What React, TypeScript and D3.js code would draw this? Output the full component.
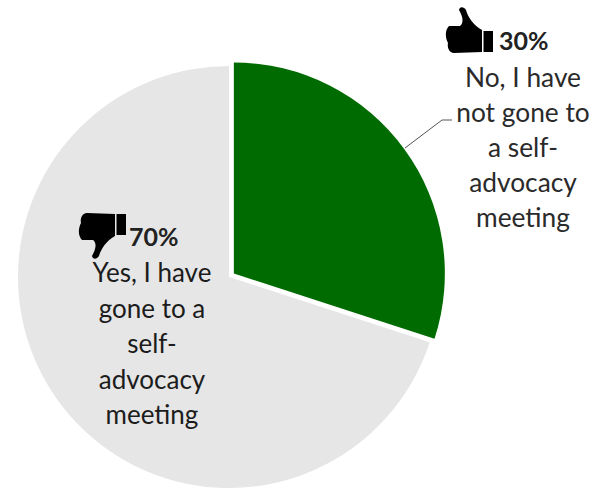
import React from 'react';
import * as d3 from 'd3';

const categories = ['No, I have not gone to a self-advocacy meeting', 'Yes, I have gone to a self-advocacy meeting'];
const values = [30, 70];
const explode = [6, 0];
const colors = ['#006b00', '#e6e6e6'];
const noLines = ['No, I have', 'not gone to', 'a self-', 'advocacy', 'meeting'];
const yesLines = ['Yes, I have', 'gone to a', 'self-', 'advocacy', 'meeting'];

const width = 598;
const height = 490;
const cx = 229;
const cy = 277;
const radius = 211;

// thumb glyph, pointing up, 47 wide and 46 high
const thumb = 'M3,19 L14,19 C18,16 17,10 13,3 C14,-1 18,0 20,3 C22,10 27,18 36,23 L36,45 L8,46 C3,46 1,40 2,36 C-1,30 -1,23 3,19 Z M37.5,24 H47 V45 H37.5 Z';

const App: React.FC = () => {
  const pie = d3.pie<number>().sort(null).startAngle(0).endAngle(2 * Math.PI);
  const arc = d3.arc<d3.PieArcDatum<number>>().innerRadius(0).outerRadius(radius);
  const slices = pie(values);
  const font = 'Lato, "Open Sans", sans-serif';

  return (
    <svg width={width} height={height} style={{ position: 'absolute', left: 0, top: 0, background: '#fff' }} fontFamily={font}>
      <g transform={`translate(${cx},${cy})`}>
        {slices.map((d, i) => {
          // pulled-out slice moves along its mid angle
          const mid = (d.startAngle + d.endAngle) / 2;
          const dx = Math.sin(mid) * explode[i];
          const dy = -Math.cos(mid) * explode[i];
          return <path key={categories[i]} d={arc(d) ?? ''} fill={colors[i]} transform={`translate(${dx},${dy})`} />;
        })}
      </g>

      <polyline points="405,148 442,120 452,120" fill="none" stroke="#555" strokeWidth={1} />

      <path d={thumb} transform="translate(446,7)" fill="#000" />
      <text x={499} y={50} fontSize={25} fontWeight={700} fill="#222">{values[0]}%</text>
      {noLines.map((t, i) => (
        <text key={i} x={523} y={87 + i * 35} fontSize={26.3} textAnchor="middle" fill="#2a2a2a">{t}</text>
      ))}

      <path d={thumb} transform="translate(79,259) scale(1,-1)" fill="#000" />
      <text x={129} y={246} fontSize={25} fontWeight={700} fill="#222">{values[1]}%</text>
      {yesLines.map((t, i) => (
        <text key={i} x={152} y={282 + i * 35.5} fontSize={26} textAnchor="middle" fill="#1c1c1c">{t}</text>
      ))}
    </svg>
  );
};

export default App;
